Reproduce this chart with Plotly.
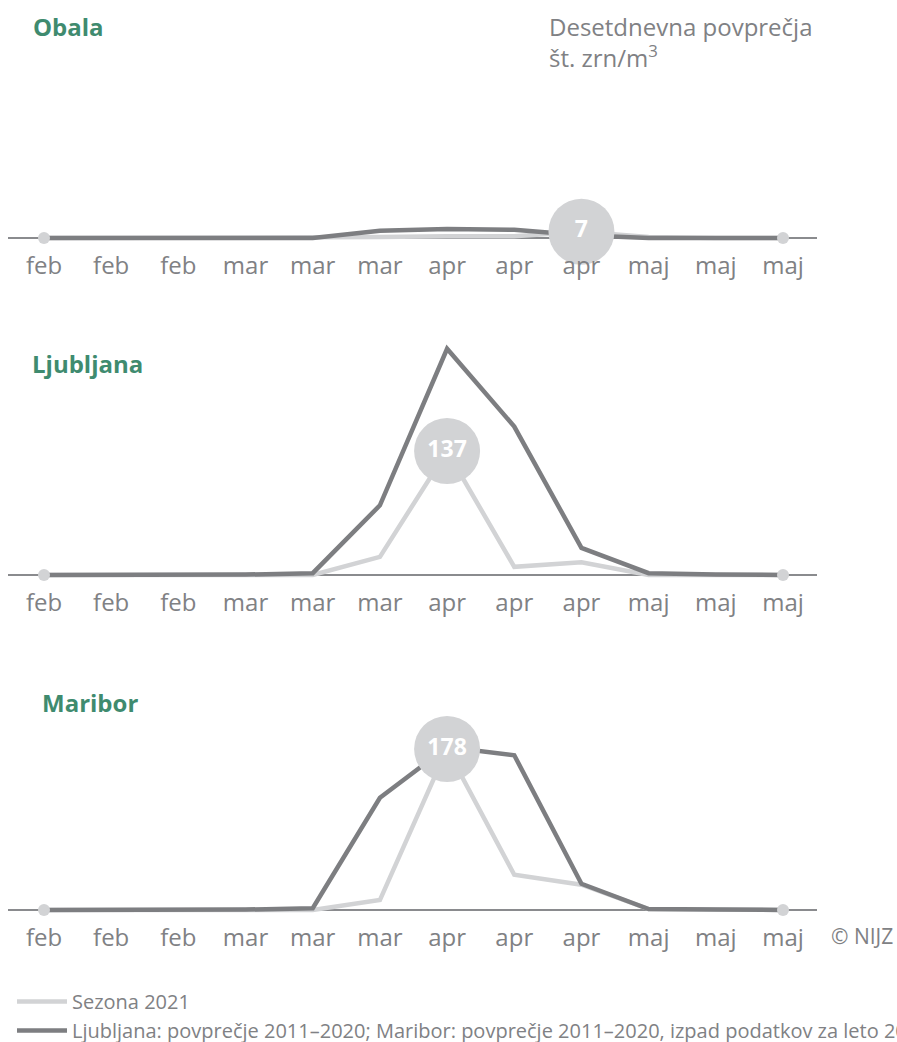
import plotly.graph_objects as go

W, H = 897, 1042

labels = ["feb", "feb", "feb", "mar", "mar", "mar", "apr", "apr", "apr", "maj", "maj", "maj"]
idx = list(range(len(labels)))

obala_2021 = [0, 0, 0, 0, 0, 1, 2, 2, 7, 1, 0, 0]
obala_avg = [0, 0, 0, 0, 0, 8, 10, 9, 3, 0, 0, 0]
ljubljana_2021 = [0, 0, 0, 0, 0, 20, 137, 9, 14, 0, 0, 0]
ljubljana_avg = [0, 0, 0, 0.5, 2, 77, 250, 164, 30, 2, 0.5, 0]
maribor_2021 = [0, 0, 0, 0, 0, 11, 178, 39, 28, 1, 0, 0]
maribor_avg = [0, 0, 0, 0.5, 2, 124, 180, 171, 29, 1, 0.5, 0]

panels = [
    ("Obala", obala_2021, obala_avg, 238, 80, 31, 26),
    ("Ljubljana", ljubljana_2021, ljubljana_avg, 575, 330, 30, 364),
    ("Maribor", maribor_2021, maribor_avg, 910, 680, 40, 702),
]

LIGHT = "#d2d3d5"
DARK = "#7d7e81"
GREEN = "#3f8b6f"
GREY = "#808184"
FONT = "Open Sans"

scale = 0.905  # px per unit
pad = 6

fig = go.Figure()

x_left_px, x_right_px = 8, 817
first_px, last_px = 44, 783
step = (last_px - first_px) / 11.0
xr0 = -(first_px - x_left_px) / step
xr1 = 11 + (x_right_px - last_px) / step

for k, (name, s21, savg, base, top, tx, ty) in enumerate(panels):
    n = "" if k == 0 else str(k + 1)
    xa, ya = "x" + n, "y" + n
    dom = [1 - (base + pad) / H, 1 - top / H]
    yrange = [-pad / scale, (base - top) / scale]
    fig.add_trace(go.Scatter(x=idx, y=s21, mode="lines", line=dict(color=LIGHT, width=4.5),
                             name="Sezona 2021", showlegend=(k == 0), xaxis=xa, yaxis=ya,
                             hoverinfo="skip"))
    fig.add_trace(go.Scatter(x=idx, y=savg, mode="lines", line=dict(color=DARK, width=4.5),
                             name="Ljubljana: povprečje 2011–2020; Maribor: povprečje 2011–2020, izpad podatkov za leto 2020",
                             showlegend=(k == 0), xaxis=xa, yaxis=ya, hoverinfo="skip"))
    fig.add_trace(go.Scatter(x=[idx[0], idx[-1]], y=[0, 0], mode="markers",
                             marker=dict(color=LIGHT, size=12), showlegend=False,
                             xaxis=xa, yaxis=ya, cliponaxis=False, hoverinfo="skip"))
    mi = max(range(len(s21)), key=lambda i: s21[i])
    fig.add_trace(go.Scatter(x=[idx[mi]], y=[s21[mi]], mode="markers+text",
                             marker=dict(color=LIGHT, size=66),
                             text=[str(s21[mi])], textposition="middle center",
                             textfont=dict(color="white", size=23, family=FONT, weight="bold"),
                             showlegend=False, xaxis=xa, yaxis=ya, cliponaxis=False,
                             hoverinfo="skip"))
    fig.layout["xaxis" + n] = dict(domain=[x_left_px / W, x_right_px / W], range=[xr0, xr1],
                                   tickvals=idx, ticktext=labels, showgrid=False,
                                   zeroline=False, showline=False, ticks="",
                                   tickfont=dict(size=24, color=GREY, family=FONT),
                                   anchor=ya, fixedrange=True, ticklabelstandoff=5,
                                   automargin=False)
    fig.layout["yaxis" + n] = dict(domain=dom, range=yrange, showgrid=False,
                                   zeroline=True, zerolinecolor="#8a8b8e", zerolinewidth=1.5,
                                   showticklabels=False, showline=False, ticks="",
                                   anchor=xa, fixedrange=True, automargin=False)
    fig.add_annotation(text="<b>" + name + "</b>", x=tx / W, y=1 - ty / H, xref="paper",
                       yref="paper", xanchor="left", yanchor="middle", showarrow=False,
                       font=dict(size=24, color=GREEN, family=FONT))

fig.add_annotation(text="Desetdnevna povprečja<br>št. zrn/m<sup>3</sup>", x=547 / W,
                   y=1 - 8 / H, xref="paper", yref="paper", xanchor="left", yanchor="top",
                   align="left", showarrow=False, font=dict(size=24, color=GREY, family=FONT))
fig.add_annotation(text="© NIJZ", x=829 / W, y=1 - 936 / H, xref="paper", yref="paper",
                   xanchor="left", yanchor="middle", showarrow=False,
                   font=dict(size=21, color=GREY, family=FONT))

fig.update_layout(
    width=W, height=H, margin=dict(l=0, r=0, t=0, b=0, autoexpand=False),
    plot_bgcolor="white", paper_bgcolor="white",
    font=dict(family=FONT, color=GREY),
    legend=dict(x=12 / W, y=1 - 982 / H, xanchor="left", yanchor="top",
                font=dict(size=20, color=GREY, family=FONT), tracegroupgap=0,
                itemwidth=50, bgcolor="rgba(0,0,0,0)"),
)

fig.write_html(
    "out.html",
    config={"displayModeBar": False, "staticPlot": True},
    post_script="document.body.style.margin='0';document.body.style.overflow='hidden';"
                "document.documentElement.style.overflow='hidden';",
)
